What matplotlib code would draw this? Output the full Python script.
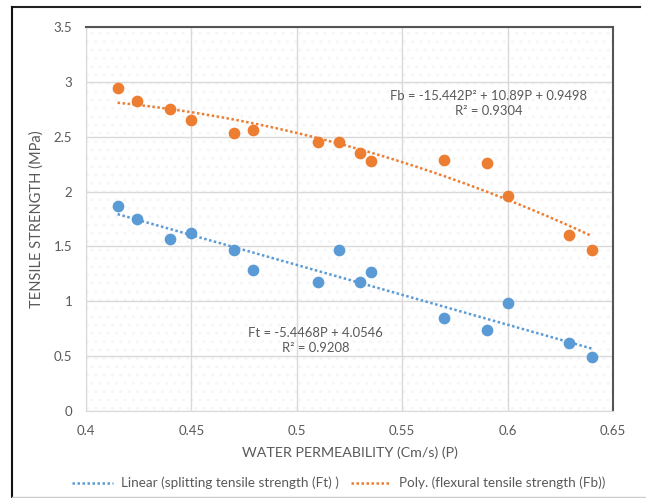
import numpy as np
import matplotlib.pyplot as plt
from matplotlib.patches import Rectangle
from matplotlib.lines import Line2D

# water permeability (cm/s)
perm = [0.415, 0.424, 0.44, 0.45, 0.47, 0.479, 0.51, 0.52, 0.53, 0.535,
        0.57, 0.59, 0.60, 0.629, 0.64]
# flexural tensile strength Fb (MPa)
fb = [2.945, 2.83, 2.75, 2.65, 2.53, 2.56, 2.45, 2.45, 2.35, 2.28,
      2.29, 2.26, 1.96, 1.60, 1.47]
# splitting tensile strength Ft (MPa)
ft = [1.865, 1.75, 1.57, 1.62, 1.47, 1.285, 1.18, 1.47, 1.18, 1.27,
      0.85, 0.74, 0.98, 0.62, 0.49]

# trendline coefficients as printed on the chart
ft_coef = [-5.4468, 4.0546]
fb_coef = [-15.442, 10.89, 0.9498]

xticks = [0.4, 0.45, 0.5, 0.55, 0.6, 0.65]
yticks = [0, 0.5, 1, 1.5, 2, 2.5, 3, 3.5]

blue = '#5B9BD5'
orange = '#ED7D31'
grey_txt = '#595959'

plt.rcParams['font.family'] = ['Lato', 'DejaVu Sans']
plt.rcParams['hatch.linewidth'] = 1.0

fig = plt.figure(figsize=(6.46, 4.98), dpi=100)
ax = fig.add_axes([86 / 646, 1 - 411 / 498, (613 - 86) / 646, (411 - 27) / 498])

# faint dotted background of the plot area
ax.add_patch(Rectangle((0, 0), 1, 1, transform=ax.transAxes, hatch='..',
                       facecolor='none', edgecolor='#f6f6f6', lw=0, zorder=0))

ax.scatter(perm, fb, s=55, color=orange, zorder=3)
ax.scatter(perm, ft, s=55, color=blue, zorder=3)

xs = np.linspace(min(perm), max(perm), 100)
ax.plot(xs, np.polyval(ft_coef, xs), color=blue, ls=(0, (1, 1)), lw=1.8, zorder=2)
ax.plot(xs, np.polyval(fb_coef, xs), color=orange, ls=(0, (1, 1)), lw=1.8, zorder=2)

ax.set_xlim(0.4, 0.65)
ax.set_ylim(0, 3.5)
ax.set_xticks(xticks)
ax.set_xticklabels([f'{t:g}' for t in xticks])
ax.set_yticks(yticks)
ax.set_yticklabels([f'{t:g}' for t in yticks])
ax.tick_params(length=0, labelsize=9.5, colors=grey_txt, pad=10)
ax.grid(True, color='#d9d9d9', lw=1)
ax.set_axisbelow(True)

for s in ['left', 'bottom']:
    ax.spines[s].set_color('#d9d9d9')
for s in ['top', 'right']:
    ax.spines[s].set_color('#555555')
    ax.spines[s].set_linewidth(1.5)

ax.set_xlabel('WATER PERMEABILITY (Cm/s) (P)', fontsize=10.3, color=grey_txt, labelpad=7)
ax.set_ylabel('TENSILE STRENGTH (MPa)', fontsize=10.5, color=grey_txt, labelpad=7)

ax.text(0.591, 2.80, 'Fb = -15.442P² + 10.89P + 0.9498\nR² = 0.9304', ha='center',
        va='center', fontsize=9.4, color=grey_txt, linespacing=1.3)
ax.text(0.509, 0.64, 'Ft = -5.4468P + 4.0546\nR² = 0.9208', ha='center',
        va='center', fontsize=9.4, color=grey_txt, linespacing=1.3)

handles = [Line2D([], [], color=blue, ls=(0, (1, 1)), lw=1.8),
           Line2D([], [], color=orange, ls=(0, (1, 1)), lw=1.8)]
labels = ['Linear (splitting tensile strength (Ft) )',
          'Poly. (flexural tensile strength (Fb))']
leg = fig.legend(handles, labels, loc='center', bbox_to_anchor=(339 / 646, 1 - 483 / 498),
                 ncol=2, frameon=False, fontsize=9.7, handlelength=3,
                 columnspacing=0.9, handletextpad=0.6)
for t in leg.get_texts():
    t.set_color(grey_txt)

# outer chart frame
fig.add_artist(Line2D([12 / 646, 640 / 646], [1 - 7 / 498, 1 - 7 / 498],
                      transform=fig.transFigure, color='#222222', lw=1.5))
fig.add_artist(Line2D([12 / 646, 12 / 646], [1 - 7 / 498, 1 - 497 / 498],
                      transform=fig.transFigure, color='#111111', lw=1.5))
fig.add_artist(Line2D([12 / 646, 646 / 646], [1 - 496.5 / 498, 1 - 496.5 / 498],
                      transform=fig.transFigure, color='#cccccc', lw=1))

fig.savefig('out.png', dpi=100)
